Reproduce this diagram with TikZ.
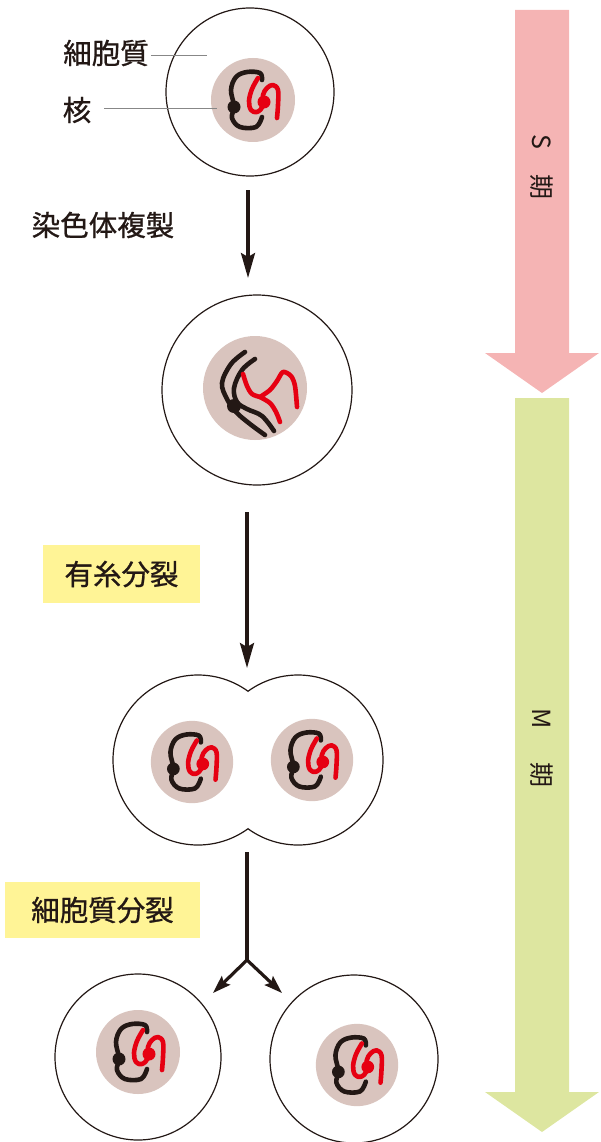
\documentclass[tikz,border=0pt]{standalone}
\usepackage{fontspec}
\setmainfont{Noto Sans CJK JP}
\newfontfamily\jpheavy{Noto Sans CJK JP}[FakeBold=0.9]
\usetikzlibrary{arrows.meta}

\definecolor{ink}{RGB}{35,24,21}
\definecolor{nuc}{RGB}{217,196,190}
\definecolor{chr}{RGB}{230,0,18}
\definecolor{sband}{RGB}{245,180,180}
\definecolor{mband}{RGB}{221,230,160}
\definecolor{tagbg}{RGB}{255,244,150}
\definecolor{leadgray}{RGB}{135,135,135}

\tikzset{
  cell/.style={circle, draw=ink, line width=1.2pt, inner sep=0pt, fill=white},
  cellline/.style={draw=ink, line width=1.2pt},
  flow/.style={draw=ink, line width=3.2pt, -{Stealth[length=25pt,width=14pt,inset=4pt]}},
  flowshaft/.style={draw=ink, line width=3.2pt},
  branch/.style={draw=ink, line width=3.2pt, -{Stealth[length=18pt,width=12pt,inset=3pt]}},
  leader/.style={draw=leadgray, line width=0.9pt},
  lbl/.style={text=ink, font=\jpheavy\fontsize{28.5}{30}\selectfont, inner sep=0pt},
  tag/.style={fill=tagbg, text=ink, font=\jpheavy\fontsize{28.5}{30}\selectfont, inner sep=0pt},
  phase/.style={text=ink, font=\fontsize{25}{27}\selectfont, rotate=-90, inner sep=0pt},
  blk/.style={draw=ink, line width=4.6pt, line cap=round, line join=round},
  red/.style={draw=chr, line width=4.6pt, line cap=round, line join=round},
  % nucleus with one set of chromosomes
  nucleusA/.pic={
    \fill[nuc] (0,0) circle[radius=42];
    \draw[blk] plot[smooth, tension=0.6] coordinates
      {(9,-20) (7,-27) (-6,-28) (-17,-23) (-22,-10) (-19,6) (-21,18) (-13,27) (3,27) (9,17)};
    \draw[red] plot[smooth, tension=0.6] coordinates
      {(5,-22) (-1,-11) (-4,1) (-2,10) (4,12) (10,6) (10,-5) (14,-12) (20,-15) (25,-10) (25,5) (24,18)};
    \fill[ink] (-19,7) circle[radius=6.5];
    \fill[chr] (11,2) circle[radius=6.5];
  },
  % nucleus after chromosome replication
  nucleusB/.pic={
    \fill[nuc] (0,0) circle[radius=52];
    \draw[blk] plot[smooth, tension=0.6] coordinates
      {(-10,-36) (-24,-24) (-33,-5) (-28,11) (-19,24) (-5,36) (10,47)};
    \draw[blk] plot[smooth, tension=0.6] coordinates
      {(0,-29) (-13,-18) (-21,0) (-18,14) (-8,21) (7,28) (19,43)};
    \draw[red] plot[smooth, tension=0.5] coordinates
      {(-12,-14) (-8,-2) (-3,6) (5,9)};
    \draw[red] plot[smooth, tension=0.5] coordinates
      {(5,9) (15,2) (22,-7) (28,-16) (36,-12) (40,-2) (42,19)};
    \draw[red] plot[smooth, tension=0.5] coordinates
      {(5,9) (15,15) (21,24) (25,34)};
    \fill[ink] (-21,18) circle[radius=7];
  }
}

\begin{document}
\begin{tikzpicture}[x=1pt, y=-1pt]
\useasboundingbox (0,0) rectangle (600,1142);

% phase bands
\fill[sband] (515,10) -- (569,10) -- (569,353) -- (599,353) -- (542,393)
  -- (485,353) -- (515,353) -- cycle;
\fill[mband] (515,398) -- (569,398) -- (569,1092) -- (599,1092) -- (542,1132)
  -- (485,1092) -- (515,1092) -- cycle;
\node[phase] (sphase) at (542,167) {S\hspace{26pt}期};
\node[phase] (mphase) at (542,748) {M\hspace{34pt}期};

% interphase cell
\node[cell, minimum size=168pt] (c1) at (250,92) {};
\pic at (253,100) {nucleusA};
\node[lbl] (lcyto) at (106,53) {細胞質};
\node[lbl] (lnuc) at (77,110) {核};
\coordinate (pcyto) at (207,55);
\coordinate (pnuc) at (217,108);
\draw[leader] ([xshift=2pt]lcyto.east |- pcyto) -- (pcyto);
\draw[leader] ([xshift=13pt]lnuc.east |- pnuc) -- (pnuc);

% replication
\node[lbl] (lrep) at (103,225) {染色体複製};
\coordinate (a1s) at (248,190);
\coordinate (a1e) at (248,278);
\draw[flow] (a1s) -- (a1e);

\node[cell, minimum size=190pt] (c2) at (257,390) {};
\pic at (255,388) {nucleusB};

% mitosis
\node[tag, minimum width=157pt, minimum height=58pt] (tmit) at (121.5,574) {有糸分裂};
\coordinate (a2s) at (247,512);
\coordinate (a2e) at (247,668);
\draw[flow] (a2s) -- (a2e);

\begin{scope}
  \clip (0,600) rectangle (248,900);
  \draw[cellline] (198,760) circle[radius=85];
\end{scope}
\begin{scope}
  \clip (248,600) rectangle (500,900);
  \draw[cellline] (298,760) circle[radius=85];
\end{scope}
\coordinate (c3) at (248,760);
\pic[scale=0.98] at (192,762) {nucleusA};
\pic[scale=0.98] at (312,760) {nucleusA};

% cytokinesis
\node[tag, minimum width=195pt, minimum height=56pt] (tcyt) at (102.5,910) {細胞質分裂};
\coordinate (a3s) at (247,852);
\coordinate (a3m) at (247,960);
\coordinate (a3l) at (213,993);
\coordinate (a3r) at (282,993);
\draw[flowshaft] (a3s) -- (a3m);
\draw[branch] (a3m) -- (a3l);
\draw[branch] (a3m) -- (a3r);

\node[cell, minimum size=166pt] (c4) at (138,1057) {};
\node[cell, minimum size=168pt] (c5) at (354,1059) {};
\pic at (138,1052) {nucleusA};
\pic[scale=0.98] at (357,1065) {nucleusA};
\end{tikzpicture}
\end{document}
